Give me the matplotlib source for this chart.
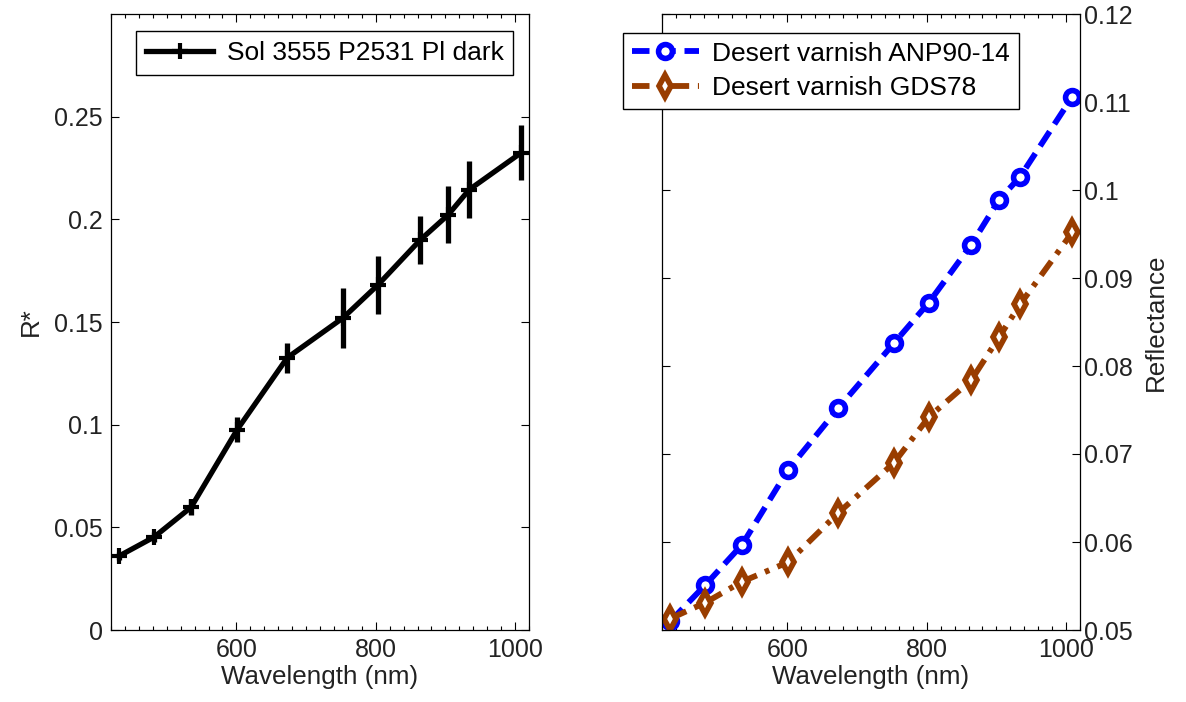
import matplotlib
matplotlib.use("Agg")
import matplotlib.pyplot as plt
from matplotlib.ticker import MultipleLocator

plt.rcParams['font.family'] = ['Liberation Sans', 'DejaVu Sans']

# Pancam filter wavelengths (nm)
wl = [432, 482, 535, 601, 673, 753, 803, 864, 904, 934, 1009]

# left: Sol 3555 P2531 Pl dark, R* with error bars
r_star = [0.0361, 0.0453, 0.0598, 0.0975, 0.1326, 0.152, 0.168, 0.190, 0.2022, 0.2144, 0.2325]
r_err = [0.002, 0.0025, 0.004, 0.006, 0.0073, 0.0146, 0.0139, 0.0117, 0.0138, 0.0139, 0.0134]

# right: desert varnish lab spectra
anp = [0.0510, 0.0551, 0.0597, 0.0682, 0.0752, 0.0826, 0.0872, 0.0938, 0.0989, 0.1015, 0.1106]
gds = [0.0513, 0.0531, 0.0555, 0.0577, 0.0633, 0.0690, 0.0742, 0.0784, 0.0833, 0.0870, 0.0952]

FS = 18
FS_LAB = 18.7
FS_LEG = 19
fig = plt.figure(figsize=(11.86, 7.02), dpi=100)

def style(ax):
    ax.set_xlim(420, 1020)
    ax.xaxis.set_major_locator(MultipleLocator(200))
    ax.xaxis.set_minor_locator(MultipleLocator(20))
    ax.tick_params(which='both', direction='in', top=True, right=True, labelsize=FS, pad=6,
                   labelcolor='#222222')
    ax.tick_params(which='major', length=6, width=0.8)
    ax.tick_params(which='minor', length=3, width=0.8)
    for s in ax.spines.values():
        s.set_linewidth(0.9)
    ax.set_xlabel("Wavelength (nm)", fontsize=FS_LAB, labelpad=2, color='#222222')

# ---------- left panel ----------
ax1 = fig.add_axes([111/1186, 72/702, 418/1186, 616/702])
ax1.errorbar(wl, r_star, yerr=r_err, fmt='none', ecolor='black', elinewidth=3.8, capsize=0)
ax1.plot(wl, r_star, '-+', color='black', lw=3.8, ms=12, mew=3,
         label="Sol 3555 P2531 Pl dark")
style(ax1)
ax1.set_ylim(0, 0.3)
ax1.set_yticks([0, 0.05, 0.1, 0.15, 0.2, 0.25])
ax1.set_yticklabels(["0", "0.05", "0.1", "0.15", "0.2", "0.25"])
ax1.set_ylabel("R*", fontsize=FS_LAB, labelpad=8, color='#222222')
leg1 = ax1.legend(loc='upper left', bbox_to_anchor=(136/1186, 1 - 31/702),
                  bbox_transform=fig.transFigure, fontsize=FS_LEG, borderaxespad=0,
                  fancybox=False, framealpha=1, edgecolor='black', handlelength=2.55,
                  borderpad=0.38, handletextpad=0.5)
leg1.get_frame().set_linewidth(1.0)

# ---------- right panel ----------
ax2 = fig.add_axes([662/1186, 72/702, 418/1186, 616/702])
ax2.plot(wl, anp, '--o', color='#0000ff', lw=4.2, ms=10, mew=4, mfc='white',
         dashes=(3, 1.5), label="Desert varnish ANP90-14")
ax2.plot(wl, gds, '-.d', color='#993d00', lw=4.2, ms=11, mew=4, mfc='white',
         dashes=(3, 1.5, 0.8, 1.5), label="Desert varnish GDS78")
style(ax2)
ax2.set_ylim(0.05, 0.12)
ax2.set_yticks([0.05, 0.06, 0.07, 0.08, 0.09, 0.1, 0.11, 0.12])
ax2.set_yticklabels(["0.05", "0.06", "0.07", "0.08", "0.09", "0.1", "0.11", "0.12"])
ax2.tick_params(axis='y', labelleft=False, labelright=True, pad=3)
ax2.yaxis.set_label_position('right')
ax2.set_ylabel("Reflectance", fontsize=FS_LAB, labelpad=8, color='#222222')
leg2 = ax2.legend(loc='upper left', bbox_to_anchor=(623/1186, 1 - 33/702),
                  bbox_transform=fig.transFigure, fontsize=FS_LEG, borderaxespad=0,
                  fancybox=False, framealpha=1, edgecolor='black', handlelength=2.55,
                  borderpad=0.33, handletextpad=0.5, labelspacing=0.4)
leg2.get_frame().set_linewidth(1.0)

fig.savefig("out.png", dpi=100)
